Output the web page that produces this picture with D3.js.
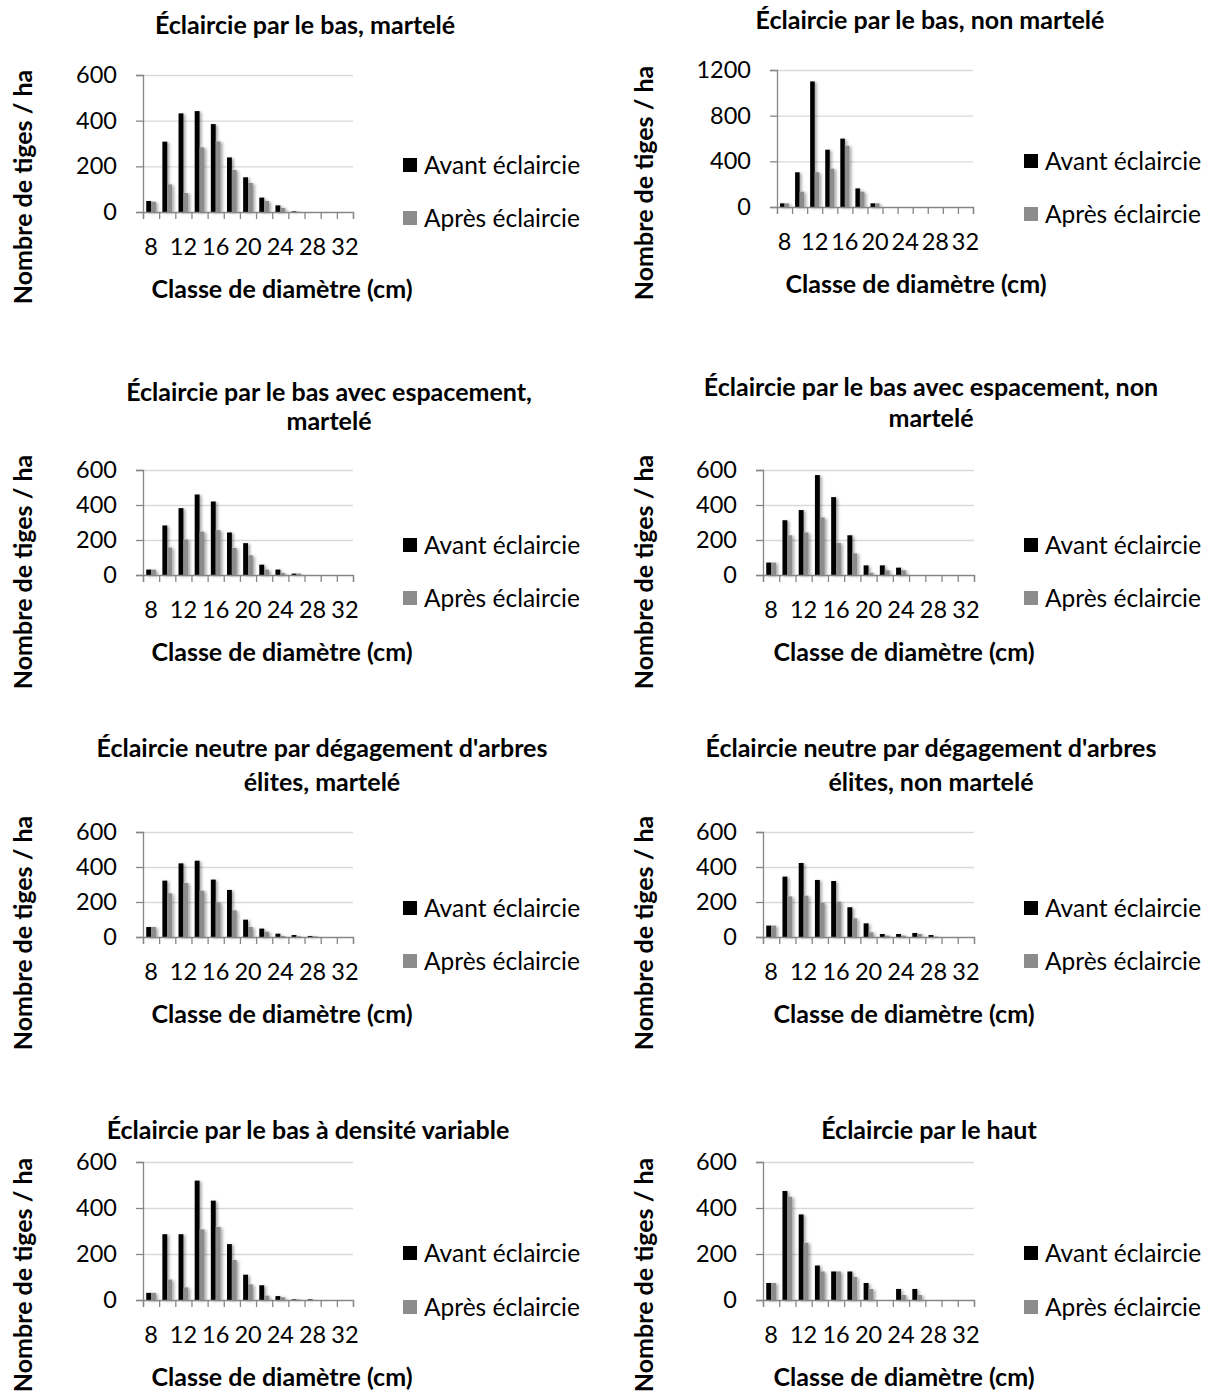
<!DOCTYPE html>
<html>
<head>
<meta charset="utf-8">
<script src="https://cdn.jsdelivr.net/npm/d3@7"></script>
<style>
  body { margin: 0; background: #fff; }
  text { font-family: Lato, "Open Sans", sans-serif; }
</style>
</head>
<body>
<div id="chart"></div>
<script>
// Classes de diamètre (cm) and the labels shown on the axis
var classes = [8, 10, 12, 14, 16, 18, 20, 22, 24, 26, 28, 30, 32];
var tickLabels = [8, 12, 16, 20, 24, 28, 32];
var seriesNames = ["Avant éclaircie", "Après éclaircie"];

// tiges / ha
var avantBasMartele = [48, 308, 432, 442, 385, 239, 152, 63, 29, 3, 0, 0, 0];
var apresBasMartele = [45, 121, 83, 283, 309, 184, 127, 48, 18, 1, 0, 0, 0];
var avantBasNonMartele = [32, 304, 1100, 502, 599, 163, 32, 0, 0, 0, 0, 0, 0];
var apresBasNonMartele = [32, 134, 304, 336, 537, 134, 32, 0, 0, 0, 0, 0, 0];
var avantEspMartele = [31, 283, 382, 460, 420, 243, 182, 59, 31, 8, 0, 0, 0];
var apresEspMartele = [31, 157, 203, 248, 256, 155, 113, 31, 11, 8, 0, 0, 0];
var avantEspNonMartele = [71, 313, 371, 571, 445, 227, 55, 55, 42, 0, 0, 0, 0];
var apresEspNonMartele = [71, 227, 243, 329, 183, 124, 13, 27, 27, 0, 0, 0, 0];
var avantNeutreMartele = [57, 322, 421, 436, 328, 269, 99, 48, 19, 11, 6, 0, 0];
var apresNeutreMartele = [57, 250, 309, 265, 198, 152, 57, 30, 6, 4, 4, 0, 0];
var avantNeutreNonMartele = [65, 345, 423, 326, 320, 170, 78, 17, 17, 23, 11, 0, 0];
var apresNeutreNonMartele = [65, 232, 236, 196, 202, 107, 27, 8, 8, 17, 2, 0, 0];
var avantDensiteVariable = [31, 286, 286, 519, 432, 243, 110, 64, 17, 3, 3, 0, 0];
var apresDensiteVariable = [31, 89, 55, 307, 318, 174, 68, 19, 12, 2, 0, 0, 0];
var avantHaut = [74, 474, 372, 150, 124, 124, 74, 0, 48, 48, 0, 0, 0];
var apresHaut = [74, 449, 249, 124, 124, 100, 48, 0, 22, 22, 0, 0, 0];

var ticks600 = [0, 200, 400, 600];
var ticks1200 = [0, 400, 800, 1200];

var titles = [
  ["Éclaircie par le bas, martelé"],
  ["Éclaircie par le bas, non martelé"],
  ["Éclaircie par le bas avec espacement,", "martelé"],
  ["Éclaircie par le bas avec espacement, non", "martelé"],
  ["Éclaircie neutre par dégagement d'arbres", "élites, martelé"],
  ["Éclaircie neutre par dégagement d'arbres", "élites, non martelé"],
  ["Éclaircie par le bas à densité variable"],
  ["Éclaircie par le haut"]
];
var yTitle = "Nombre de tiges / ha";
var xTitle = "Classe de diamètre (cm)";

var width = 1210, height = 1397;
var colors = ["#000000", "#8c8c8c"];
var axisColor = "#868686", gridColor = "#d9d9d9";

var svg = d3.select("#chart").append("svg")
    .attr("width", width)
    .attr("height", height);

svg.append("defs").append("filter")
    .attr("id", "shadow")
    .attr("x", "-50%").attr("y", "-10%").attr("width", "200%").attr("height", "120%")
  .append("feDropShadow")
    .attr("dx", 2).attr("dy", 1)
    .attr("stdDeviation", 1.5)
    .attr("flood-color", "#000")
    .attr("flood-opacity", 0.35);

// layout of each panel (page coordinates)
var panels = [
  {title: titles[0], avant: avantBasMartele, apres: apresBasMartele, ticks: ticks600,
   left: 143, right: 353, top: 75, bottom: 212, titleX: 305, titleY: [25], col: 0, legY: [165, 218], yTitleY: 187, xTitleX: 282},
  {title: titles[1], avant: avantBasNonMartele, apres: apresBasNonMartele, ticks: ticks1200,
   left: 777, right: 973, top: 70, bottom: 207, titleX: 930, titleY: [20], col: 1, legY: [161, 214], yTitleY: 183, xTitleX: 916},
  {title: titles[2], avant: avantEspMartele, apres: apresEspMartele, ticks: ticks600,
   left: 143, right: 353, top: 470, bottom: 575, titleX: 329, titleY: [392, 421], col: 0, legY: [545, 598], yTitleY: 572, xTitleX: 282},
  {title: titles[3], avant: avantEspNonMartele, apres: apresEspNonMartele, ticks: ticks600,
   left: 763, right: 974, top: 470, bottom: 575, titleX: 931, titleY: [387, 418], col: 1, legY: [545, 598], yTitleY: 572, xTitleX: 904},
  {title: titles[4], avant: avantNeutreMartele, apres: apresNeutreMartele, ticks: ticks600,
   left: 143, right: 353, top: 832, bottom: 937, titleX: 322, titleY: [748, 782], col: 0, legY: [908, 961], yTitleY: 933, xTitleX: 282},
  {title: titles[5], avant: avantNeutreNonMartele, apres: apresNeutreNonMartele, ticks: ticks600,
   left: 763, right: 974, top: 832, bottom: 937, titleX: 931, titleY: [748, 782], col: 1, legY: [908, 961], yTitleY: 933, xTitleX: 904},
  {title: titles[6], avant: avantDensiteVariable, apres: apresDensiteVariable, ticks: ticks600,
   left: 143, right: 353, top: 1162, bottom: 1300, titleX: 308, titleY: [1130], col: 0, legY: [1253, 1307], yTitleY: 1275, xTitleX: 282},
  {title: titles[7], avant: avantHaut, apres: apresHaut, ticks: ticks600,
   left: 763, right: 974, top: 1162, bottom: 1300, titleX: 929, titleY: [1130], col: 1, legY: [1253, 1307], yTitleY: 1275, xTitleX: 904}
];

function drawPanel(p) {
    var g = svg.append("g");
    var colX = p.col === 0 ? 0 : 621;

    var x = d3.scaleBand().domain(classes).range([p.left, p.right])
        .paddingInner(0.4).paddingOuter(0.2);
    var sub = d3.scaleBand().domain([0, 1]).range([0, x.bandwidth()]);
    var y = d3.scaleLinear().domain([0, d3.max(p.ticks)]).range([p.bottom, p.top]);
    var xb = d3.scaleLinear().domain([0, classes.length]).range([p.left, p.right]);

    // gridlines
    var grid = g.append("g")
        .attr("transform", "translate(" + p.left + ",0)")
        .call(d3.axisLeft(y).tickValues(p.ticks.slice(1)).tickSize(-(p.right - p.left)).tickFormat(""));
    grid.select(".domain").remove();
    grid.selectAll("line").attr("stroke", gridColor).attr("stroke-width", 1.3);

    // bars
    var rows = classes.map(function(c, i) { return {c: c, v: [p.avant[i], p.apres[i]]}; });
    var bars = g.append("g").attr("filter", "url(#shadow)");
    bars.selectAll("g")
        .data(rows)
        .enter()
        .append("g")
        .attr("transform", function(d) { return "translate(" + x(d.c) + ",0)"; })
        .selectAll("rect")
        .data(function(d) { return d.v; })
        .enter()
        .append("rect")
        .attr("x", function(d, i) { return sub(i); })
        .attr("width", sub.bandwidth())
        .attr("y", function(d) { return y(d); })
        .attr("height", function(d) { return y(0) - y(d); })
        .attr("fill", function(d, i) { return colors[i]; });

    // y axis
    var ya = g.append("g")
        .attr("transform", "translate(" + p.left + ",0)")
        .call(d3.axisLeft(y).tickValues(p.ticks).tickSize(7).tickPadding(19).tickFormat(d3.format("d")));
    ya.selectAll("line, path").attr("stroke", axisColor).attr("stroke-width", 1.3);
    ya.selectAll("text").attr("font-size", 23.5).attr("fill", "#000").attr("font-family", "Lato");

    // x axis: ticks between classes
    var xa = g.append("g")
        .attr("transform", "translate(0," + p.bottom + ")")
        .call(d3.axisBottom(xb).tickValues(d3.range(classes.length + 1)).tickSize(7).tickFormat(""));
    xa.selectAll("line, path").attr("stroke", axisColor).attr("stroke-width", 1.3);

    var xl = g.append("g")
        .attr("transform", "translate(0," + p.bottom + ")")
        .call(d3.axisBottom(x).tickValues(tickLabels).tickSize(0).tickPadding(26));
    xl.select(".domain").remove();
    xl.selectAll("text").attr("font-size", 23.5).attr("fill", "#000").attr("font-family", "Lato");

    // titles
    g.append("g").selectAll("text")
        .data(p.title)
        .enter()
        .append("text")
        .attr("x", p.titleX)
        .attr("y", function(d, i) { return p.titleY[i]; })
        .attr("dy", "0.35em")
        .attr("text-anchor", "middle")
        .style("font-weight", "bold")
        .style("font-size", "25px")
        .text(function(d) { return d; });

    g.append("text")
        .attr("transform", "translate(" + (colX + 23) + "," + p.yTitleY + ") rotate(-90)")
        .attr("dy", "0.35em")
        .attr("text-anchor", "middle")
        .style("font-weight", "bold")
        .style("font-size", "25px")
        .text(yTitle);

    g.append("text")
        .attr("x", p.xTitleX)
        .attr("y", p.bottom + 77)
        .attr("dy", "0.35em")
        .attr("text-anchor", "middle")
        .style("font-weight", "bold")
        .style("font-size", "25px")
        .text(xTitle);

    // legend
    var leg = g.append("g").selectAll("g")
        .data(seriesNames)
        .enter()
        .append("g")
        .attr("transform", function(d, i) { return "translate(" + (colX + 403) + "," + p.legY[i] + ")"; });
    leg.append("rect")
        .attr("x", 0).attr("y", -7)
        .attr("width", 14).attr("height", 14)
        .attr("fill", function(d, i) { return colors[i]; });
    leg.append("text")
        .attr("x", 21)
        .attr("dy", "0.35em")
        .style("font-size", "24.5px")
        .text(function(d) { return d; });
}

panels.forEach(drawPanel);
</script>
</body>
</html>
